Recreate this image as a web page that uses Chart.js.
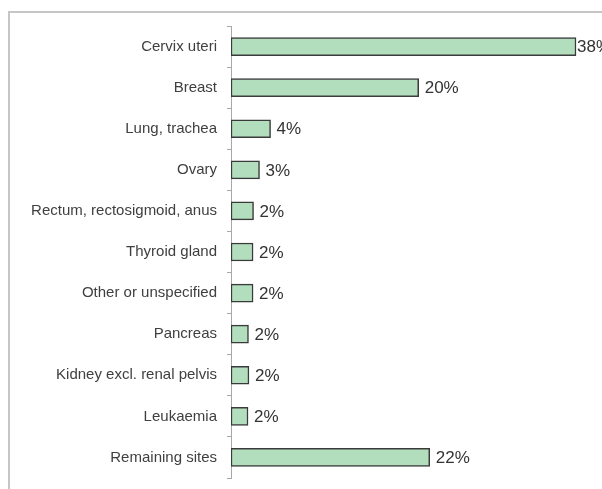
<!DOCTYPE html>
<html>
<head>
<meta charset="utf-8">
<script src="https://cdn.jsdelivr.net/npm/chart.js@4/dist/chart.umd.min.js"></script>
<style>
  html, body { margin: 0; padding: 0; background: #ffffff; }
  #wrap { width: 602px; height: 489px; position: relative; }
</style>
</head>
<body>
<div id="wrap"><canvas id="c" width="602" height="489"></canvas></div>
<script>
const categories = [
  'Cervix uteri', 'Breast', 'Lung, trachea', 'Ovary',
  'Rectum, rectosigmoid, anus', 'Thyroid gland', 'Other or unspecified',
  'Pancreas', 'Kidney excl. renal pelvis', 'Leukaemia', 'Remaining sites'
];
const shares = [37.5, 20.4, 4.3, 3.1, 2.45, 2.4, 2.4, 1.9, 1.95, 1.85, 21.6];
const xMin = 0;
const xMax = 40;

const frame = {
  id: 'frame',
  beforeDraw(chart) {
    const ctx = chart.ctx;
    ctx.save();
    ctx.strokeStyle = '#c6c6c6';
    ctx.lineWidth = 2;
    ctx.beginPath();
    ctx.moveTo(9, chart.height);
    ctx.lineTo(9, 12);
    ctx.lineTo(chart.width, 12);
    ctx.stroke();
    ctx.restore();
  }
};

const valueLabels = {
  id: 'valueLabels',
  afterDatasetsDraw(chart) {
    const ctx = chart.ctx;
    const meta = chart.getDatasetMeta(0);
    ctx.save();
    ctx.font = '17px "Liberation Sans", Arial, sans-serif';
    ctx.fillStyle = '#333333';
    ctx.textBaseline = 'middle';
    ctx.textAlign = 'left';
    meta.data.forEach((bar, i) => {
      const txt = Math.round(shares[i]) + '%';
      const w = ctx.measureText(txt).width;
      const x = Math.min(bar.x + 6, chart.width - w + 9);
      ctx.fillText(txt, x, bar.y + 1);
    });
    ctx.restore();
  }
};

new Chart(document.getElementById('c'), {
  type: 'bar',
  data: {
    labels: categories,
    datasets: [{
      data: shares,
      backgroundColor: '#b2debe',
      borderColor: '#3a3a3a',
      borderWidth: 1.5,
      borderSkipped: false,
      barThickness: 18
    }]
  },
  options: {
    indexAxis: 'y',
    responsive: false,
    animation: false,
    devicePixelRatio: 1,
    layout: { padding: { top: 26, right: 3, bottom: 11, left: 0 } },
    plugins: { legend: { display: false }, tooltip: { enabled: false } },
    scales: {
      x: {
        display: false,
        min: xMin,
        max: xMax
      },
      y: {
        afterFit(scale) {
          scale.width = 231;
          scale.paddingTop = 0;
          scale.paddingBottom = 0;
        },
        grid: {
          drawOnChartArea: false,
          drawTicks: true,
          tickLength: 4,
          color: '#a8a8a8',
          offset: true
        },
        border: { display: true, color: '#a8a8a8', width: 1 },
        ticks: {
          padding: 10,
          color: '#404040',
          font: { family: '"Liberation Sans", Arial, sans-serif', size: 15 }
        }
      }
    }
  },
  plugins: [frame, valueLabels]
});
</script>
</body>
</html>
